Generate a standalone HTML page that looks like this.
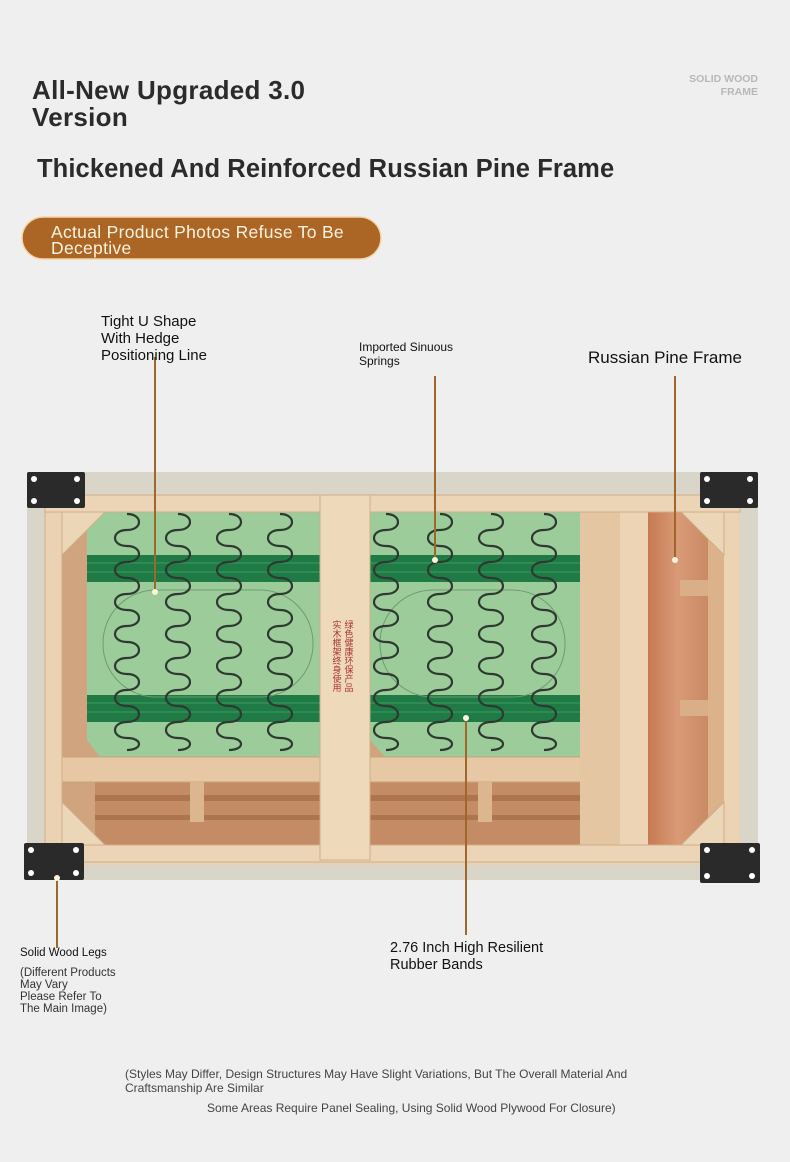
<!DOCTYPE html>
<html><head><meta charset="utf-8"><style>
html,body{margin:0;padding:0;background:#efefef;}
body{width:790px;height:1162px;position:relative;overflow:hidden;font-family:"Liberation Sans",sans-serif;}
.t{position:absolute;white-space:nowrap;}
</style></head><body>
<svg width="790" height="1162" style="position:absolute;left:0;top:0">
<defs>
<path id="sp" d="M0 0 c16 0 16 16 0 16 c-16 0 -16 16 0 16 c16 0 16 16 0 16 c-16 0 -16 16 0 16 c16 0 16 16 0 16 c-16 0 -16 16 0 16 c16 0 16 16 0 16 c-16 0 -16 16 0 16 c16 0 16 16 0 16 c-16 0 -16 16 0 16 c16 0 16 16 0 16 c-16 0 -16 16 0 16 c16 0 16 16 0 16 c-16 0 -16 16 0 16 c16 0 16 12 0 12" fill="none" stroke="#2e3a30" stroke-width="2.2"/>
<linearGradient id="rw" x1="0" y1="0" x2="1" y2="0"><stop offset="0" stop-color="#c67a52"/><stop offset="0.5" stop-color="#d99a76"/><stop offset="1" stop-color="#c98a64"/></linearGradient>
</defs>
<rect x="27" y="472" width="731" height="408" fill="#d9d5c9"/>
<rect x="45" y="495" width="695" height="370" fill="#e9d2b2"/>
<rect x="60" y="512" width="520" height="333" fill="#d0a47e"/>
<rect x="95" y="782" width="485" height="63" fill="#c48c64"/>
<rect x="95" y="795" width="485" height="6" fill="#ad7450"/>
<rect x="95" y="815" width="485" height="5" fill="#ad7450"/>
<path d="M87 512 H320 V757 H100 L87 740 Z" fill="#9ccc9a"/>
<path d="M370 512 H580 V757 H385 L370 740 Z" fill="#9ccc9a"/>
<rect x="87" y="555" width="233" height="27" fill="#1f7a45"/>
<rect x="370" y="555" width="210" height="27" fill="#1f7a45"/>
<rect x="87" y="695" width="233" height="27" fill="#1f7a45"/>
<rect x="370" y="695" width="210" height="27" fill="#1f7a45"/>
<g stroke="#3aa064" stroke-width="1"><line x1="87" y1="563" x2="320" y2="563"/><line x1="87" y1="572" x2="320" y2="572"/><line x1="370" y1="563" x2="580" y2="563"/><line x1="370" y1="572" x2="580" y2="572"/><line x1="87" y1="703" x2="320" y2="703"/><line x1="87" y1="712" x2="320" y2="712"/><line x1="370" y1="703" x2="580" y2="703"/><line x1="370" y1="712" x2="580" y2="712"/></g>
<rect x="103" y="590" width="210" height="107" rx="53" fill="none" stroke="#6e9c70" stroke-width="1"/>
<rect x="380" y="590" width="185" height="107" rx="53" fill="none" stroke="#6e9c70" stroke-width="1"/>
<g>
<use href="#sp" x="127" y="514"/><use href="#sp" x="178" y="514"/><use href="#sp" x="229" y="514"/><use href="#sp" x="280" y="514"/>
<use href="#sp" x="386" y="514"/><use href="#sp" x="440" y="514"/><use href="#sp" x="491" y="514"/><use href="#sp" x="544" y="514"/>
</g>
<rect x="62" y="757" width="538" height="25" fill="#e6c9a4" stroke="#c9a27c"/>
<rect x="190" y="782" width="14" height="40" fill="#dcb68e"/>
<rect x="478" y="782" width="14" height="40" fill="#dcb68e"/>
<rect x="580" y="512" width="40" height="333" fill="#e4c7a2"/>
<rect x="620" y="512" width="28" height="333" fill="#ecd4b4"/>
<rect x="648" y="512" width="60" height="333" fill="url(#rw)"/>
<rect x="680" y="580" width="42" height="16" fill="#d9ae88"/>
<rect x="680" y="700" width="42" height="16" fill="#d9ae88"/>
<rect x="708" y="512" width="16" height="333" fill="#dcb28a"/>
<rect x="724" y="512" width="14" height="333" fill="#ebd3b3"/>
<rect x="45" y="495" width="17" height="370" fill="#ead2b2" stroke="#cfae88"/>
<rect x="45" y="495" width="695" height="17" fill="#ecd5b6" stroke="#cfae88"/>
<rect x="45" y="845" width="695" height="17" fill="#ecd5b6" stroke="#cfae88"/>
<polygon points="62,512 105,512 62,555" fill="#ecd6b8" stroke="#cfae88"/>
<polygon points="62,845 105,845 62,802" fill="#ecd6b8" stroke="#cfae88"/>
<polygon points="724,512 681,512 724,555" fill="#ecd6b8" stroke="#cfae88"/>
<polygon points="724,845 681,845 724,802" fill="#ecd6b8" stroke="#cfae88"/>
<rect x="320" y="495" width="50" height="365" fill="#efd9bb" stroke="#cfae88"/>
<text x="337" y="620" font-size="9" fill="#a33" writing-mode="tb" font-family="Noto Sans CJK SC,sans-serif">实木框架终身使用</text>
<text x="349" y="620" font-size="9" fill="#a33" writing-mode="tb" font-family="Noto Sans CJK SC,sans-serif">绿色健康环保产品</text>
<g fill="#2a2a2a">
<rect x="27" y="472" width="58" height="36" rx="2"/><rect x="700" y="472" width="58" height="36" rx="2"/>
<rect x="24" y="843" width="60" height="37" rx="2"/><rect x="700" y="843" width="60" height="40" rx="2"/>
</g>
<g fill="#fff">
<circle cx="34" cy="479" r="3"/><circle cx="77" cy="479" r="3"/><circle cx="34" cy="501" r="3"/><circle cx="77" cy="501" r="3"/>
<circle cx="707" cy="479" r="3"/><circle cx="750" cy="479" r="3"/><circle cx="707" cy="501" r="3"/><circle cx="750" cy="501" r="3"/>
<circle cx="31" cy="850" r="3"/><circle cx="76" cy="850" r="3"/><circle cx="31" cy="873" r="3"/><circle cx="76" cy="873" r="3"/>
<circle cx="707" cy="850" r="3"/><circle cx="752" cy="850" r="3"/><circle cx="707" cy="876" r="3"/><circle cx="752" cy="876" r="3"/>
</g>
<g stroke="#a0662a" stroke-width="2">
<line x1="155" y1="357" x2="155" y2="592"/>
<line x1="435" y1="376" x2="435" y2="560"/>
<line x1="675" y1="376" x2="675" y2="560"/>
<line x1="57" y1="880" x2="57" y2="948"/>
<line x1="466" y1="718" x2="466" y2="935"/>
</g>
<g fill="#fff4dc"><circle cx="155" cy="592" r="3"/><circle cx="435" cy="560" r="3"/><circle cx="675" cy="560" r="3"/><circle cx="57" cy="878" r="3"/><circle cx="466" cy="718" r="3"/></g>
<rect x="22" y="217" width="359" height="42" rx="21" fill="#ab6626" stroke="#f3d6a8" stroke-width="1.5"/>
</svg>
<div class="t" style="left:32px;top:77px;font-size:26px;font-weight:bold;color:#2b2b2b;line-height:27px;letter-spacing:0.3px">All-New Upgraded 3.0<br>Version</div>
<div class="t" style="right:32px;top:73px;font-size:10.5px;font-weight:bold;color:#b8b8b8;text-align:right;line-height:13px">SOLID WOOD<br>FRAME</div>
<div class="t" style="left:37px;top:155px;font-size:25.5px;font-weight:bold;color:#2b2b2b;letter-spacing:0.1px">Thickened And Reinforced Russian Pine Frame</div>
<div class="t" style="left:51px;top:224px;font-size:17.5px;color:#fff3df;line-height:16px;letter-spacing:0.3px">Actual Product Photos Refuse To Be<br>Deceptive</div>
<div class="t" style="left:101px;top:313px;font-size:15px;color:#111;line-height:17px">Tight U Shape<br>With Hedge<br>Positioning Line</div>
<div class="t" style="left:359px;top:340px;font-size:12px;color:#111;line-height:14px">Imported Sinuous<br>Springs</div>
<div class="t" style="left:588px;top:348px;font-size:17px;color:#111">Russian Pine Frame</div>
<div class="t" style="left:20px;top:947px;font-size:11.5px;color:#111">Solid Wood Legs</div>
<div class="t" style="left:20px;top:967px;font-size:11.5px;color:#333;line-height:12px">(Different Products<br>May Vary<br>Please Refer To<br>The Main Image)</div>
<div class="t" style="left:390px;top:940px;font-size:14.5px;color:#111;line-height:17px">2.76 Inch High Resilient<br>Rubber Bands</div>
<div class="t" style="left:125px;top:1067px;font-size:12px;color:#444;line-height:14px">(Styles May Differ, Design Structures May Have Slight Variations, But The Overall Material And<br>Craftsmanship Are Similar</div>
<div class="t" style="left:207px;top:1101px;font-size:12px;color:#444">Some Areas Require Panel Sealing, Using Solid Wood Plywood For Closure)</div>
</body></html>
